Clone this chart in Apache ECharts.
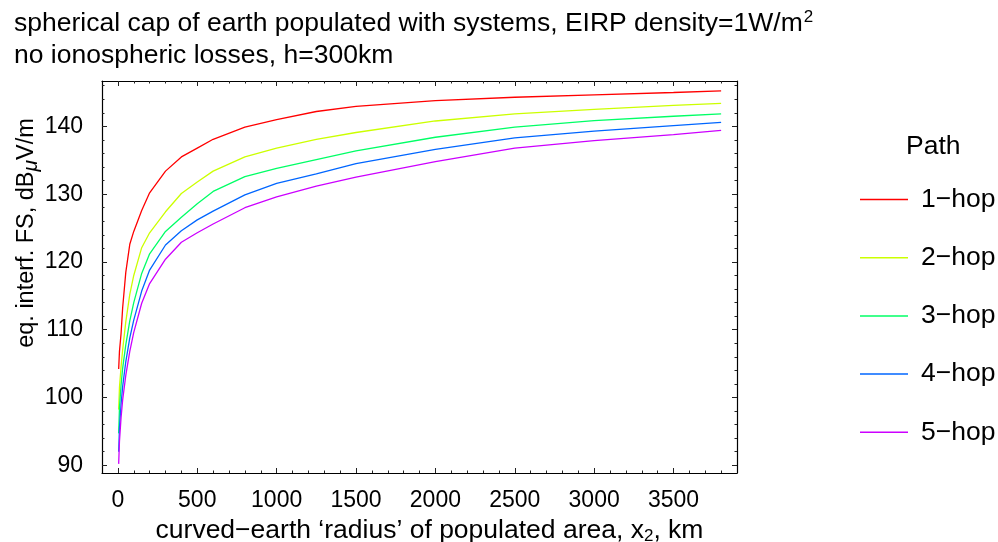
<!DOCTYPE html>
<html>
<head>
<meta charset="utf-8">
<script src="https://cdn.jsdelivr.net/npm/echarts@6/dist/echarts.min.js"></script>
<style>
html, body { margin: 0; padding: 0; background: #fff; }
#chart { width: 998px; height: 542px; }
</style>
</head>
<body>
<div id="chart"></div>
<script>
// populated radius, km
const distKm = [5, 10, 20, 30, 50, 75, 100, 150, 200, 300, 400, 500, 600, 800, 1000, 1250, 1500, 2000, 2500, 3000, 3500, 3800]
// field strength, dBuV/m
const hop1 = [104.2, 106.8, 109.4, 113.2, 118.5, 122.6, 124.5, 127.6, 130.2, 133.4, 135.5, 136.8, 138.1, 139.9, 141.0, 142.2, 142.95, 143.8, 144.3, 144.65, 145.0, 145.25]
const hop2 = [98.2, 101.5, 104.5, 107.0, 111.2, 115.2, 118.0, 122.1, 124.3, 127.4, 130.1, 131.8, 133.4, 135.5, 136.8, 138.1, 139.1, 140.8, 141.85, 142.5, 143.1, 143.4]
const hop3 = [94.7, 98.5, 101.8, 104.3, 107.8, 111.3, 114.0, 118.3, 121.2, 124.5, 126.6, 128.6, 130.4, 132.6, 133.8, 135.1, 136.4, 138.4, 139.9, 140.85, 141.5, 141.86]
const hop4 = [92.0, 95.5, 99.0, 101.6, 105.3, 108.8, 111.4, 115.7, 118.8, 122.5, 124.6, 126.2, 127.5, 129.9, 131.6, 133.0, 134.5, 136.6, 138.3, 139.3, 140.1, 140.6]
const hop5 = [90.2, 93.5, 97.0, 99.6, 103.3, 106.8, 109.6, 113.9, 116.8, 120.4, 122.9, 124.3, 125.6, 128.0, 129.6, 131.2, 132.5, 134.8, 136.8, 137.9, 138.8, 139.4]

const hopNames = ['1\u2212hop', '2\u2212hop', '3\u2212hop', '4\u2212hop', '5\u2212hop']
const hopColors = ['#ff0000', '#ccff00', '#00ff66', '#0066ff', '#cc00ff']
const xMajorTicks = [0, 500, 1000, 1500, 2000, 2500, 3000, 3500]
const yMajorTicks = [90, 100, 110, 120, 130, 140]

let xMinorTicks = []
for (let v = 0; v <= 3800; v += 100) xMinorTicks.push(v)
let yMinorTicks = []
for (let v = 90; v <= 146; v += 2) yMinorTicks.push(v)

const font = "'Liberation Sans', Arial, sans-serif"
const X_MIN = -100, X_MAX = 3900, Y_MIN = 88.85, Y_MAX = 146.7

const tickAxis = function(kind, pos, ticks, len, labels) {
	let ax = {
		type: 'value',
		min: kind === 'x' ? X_MIN : Y_MIN,
		max: kind === 'x' ? X_MAX : Y_MAX,
		position: pos,
		axisLine: { show: !!labels, onZero: false, lineStyle: { color: '#000', width: 1.2 } },
		axisTick: { inside: true, length: len, customValues: ticks, lineStyle: { color: '#222', width: 1 } },
		axisLabel: { show: false },
		splitLine: { show: false }
	}
	if (labels) {
		ax.axisLabel = {
			show: labels === 'show',
			customValues: ticks,
			formatter: function(v) {
				return String(v)
			},
			color: '#000',
			fontSize: 23,
			fontFamily: font,
			margin: kind === 'x' ? 16 : 19
		}
	}
	return ax
}

const allHops = [hop1, hop2, hop3, hop4, hop5]
const series = allHops.map((vals, i) => ({
	name: hopNames[i],
	type: 'line',
	xAxisIndex: 0,
	yAxisIndex: 0,
	showSymbol: false,
	symbol: 'none',
	silent: true,
	itemStyle: { color: hopColors[i] },
	lineStyle: { color: hopColors[i], width: 1.3 },
	data: distKm.map((x, k) => [x, vals[k]])
}))

const option = {
	backgroundColor: '#fff',
	animation: false,
	title: [
		{
			text: 'spherical cap of earth populated with systems, EIRP density=1W/m{sup|2}\nno ionospheric losses, h=300km',
			left: 14,
			top: 8,
			padding: 0,
			textStyle: {
				fontSize: 26.5,
				fontWeight: 'normal',
				color: '#000',
				fontFamily: font,
				lineHeight: 32,
				rich: {
					sup: { fontSize: 17, fontFamily: font, color: '#000', padding: [0, 0, 14, 1] }
				}
			}
		},
		{
			text: 'Path',
			left: 906,
			top: 133,
			padding: 0,
			textStyle: { fontSize: 26.5, fontWeight: 'normal', color: '#000', fontFamily: font }
		}
	],
	legend: {
		orient: 'vertical',
		left: 860,
		top: 186,
		padding: 0,
		icon: 'rect',
		itemWidth: 48,
		itemHeight: 1.5,
		itemGap: 31.2,
		data: hopNames,
		textStyle: { fontSize: 26.5, color: '#000', fontFamily: font, padding: [0, 0, 0, 8] }
	},
	grid: { left: 102, right: 261, top: 81, bottom: 69, containLabel: false, outerBoundsMode: 'none' },
	xAxis: [
		Object.assign(tickAxis('x', 'bottom', xMajorTicks, 5, 'show'), {
			name: 'curved\u2212earth \u2018radius\u2019 of populated area, x{sub|2}, km',
			nameLocation: 'middle',
			nameGap: 38,
			nameTextStyle: {
				fontSize: 26.5,
				color: '#000',
				fontFamily: font,
				padding: [0, 0, 0, 20],
				rich: { sub: { fontSize: 17, fontFamily: font, color: '#000', padding: [12, 0, 0, 0] } }
			}
		}),
		tickAxis('x', 'bottom', xMinorTicks, 2.5),
		tickAxis('x', 'top', xMajorTicks, 5, 'hide'),
		tickAxis('x', 'top', xMinorTicks, 2.5)
	],
	yAxis: [
		tickAxis('y', 'left', yMajorTicks, 5, 'show'),
		tickAxis('y', 'left', yMinorTicks, 2.5),
		tickAxis('y', 'right', yMajorTicks, 5, 'hide'),
		tickAxis('y', 'right', yMinorTicks, 2.5)
	],
	graphic: [
		{
			type: 'text',
			x: 27,
			y: 233,
			rotation: Math.PI / 2,
			style: {
				text: 'eq. interf. FS, dB{mu|\u03bc}V/m',
				font: '23.5px ' + font,
				fill: '#000',
				align: 'center',
				verticalAlign: 'middle',
				rich: {
					mu: { fontSize: 21, fontStyle: 'italic', fontFamily: font, fill: '#000', padding: [8, 0, 0, 0] }
				}
			}
		}
	],
	series: series
}

const myChart = echarts.init(document.getElementById('chart'), null, { renderer: 'canvas' })
myChart.setOption(option)
</script>
</body>
</html>
